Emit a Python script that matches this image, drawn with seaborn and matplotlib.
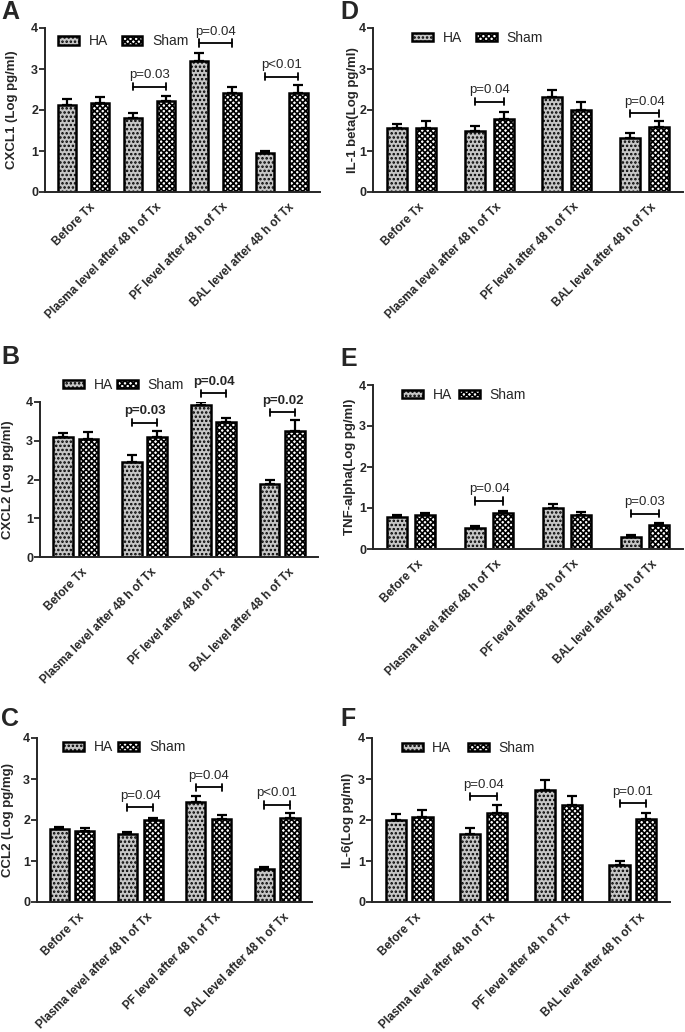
import matplotlib
matplotlib.use('Agg')
import matplotlib.pyplot as plt
import matplotlib.transforms as mtransforms
from matplotlib.patches import Patch
import seaborn as sns
import pandas as pd

categories = ['Before Tx', 'Plasma level after 48 h of Tx',
              'PF level after 48 h of Tx', 'BAL level after 48 h of Tx']
groups = ['HA', 'Sham']

# A - CXCL1
cxcl1_ha = [2.11, 1.80, 3.20, 0.94]
cxcl1_ha_err = [0.15, 0.12, 0.20, 0.05]
cxcl1_sham = [2.16, 2.23, 2.41, 2.42]
cxcl1_sham_err = [0.16, 0.10, 0.14, 0.19]
cxcl1_p = [(1, 2.57, 'p=0.03'), (2, 3.63, 'p=0.04'), (3, 2.81, 'p<0.01')]

# B - CXCL2
cxcl2_ha = [3.10, 2.44, 3.91, 1.88]
cxcl2_ha_err = [0.10, 0.20, 0.10, 0.11]
cxcl2_sham = [3.04, 3.10, 3.48, 3.26]
cxcl2_sham_err = [0.18, 0.15, 0.11, 0.27]
cxcl2_p = [(1, 3.46, 'p=0.03'), (2, 4.23, 'p=0.04'), (3, 3.74, 'p=0.02')]

# C - CCL2
ccl2_ha = [1.78, 1.66, 2.45, 0.81]
ccl2_ha_err = [0.06, 0.05, 0.14, 0.05]
ccl2_sham = [1.74, 2.00, 2.02, 2.05]
ccl2_sham_err = [0.06, 0.06, 0.11, 0.12]
ccl2_p = [(1, 2.31, 'p=0.04'), (2, 2.80, 'p=0.04'), (3, 2.37, 'p<0.01')]

# D - IL-1 beta
il1_ha = [1.56, 1.50, 2.31, 1.31]
il1_ha_err = [0.11, 0.12, 0.18, 0.12]
il1_sham = [1.56, 1.79, 2.00, 1.59]
il1_sham_err = [0.18, 0.16, 0.20, 0.13]
il1_p = [(1, 2.20, 'p=0.04'), (3, 1.92, 'p=0.04')]

# E - TNF-alpha
tnf_ha = [0.77, 0.51, 1.00, 0.30]
tnf_ha_err = [0.05, 0.04, 0.10, 0.03]
tnf_sham = [0.83, 0.88, 0.82, 0.59]
tnf_sham_err = [0.05, 0.05, 0.08, 0.04]
tnf_p = [(1, 1.17, 'p=0.04'), (3, 0.86, 'p=0.03')]

# F - IL-6
il6_ha = [1.99, 1.65, 2.74, 0.90]
il6_ha_err = [0.15, 0.15, 0.23, 0.11]
il6_sham = [2.07, 2.18, 2.36, 2.02]
il6_sham_err = [0.18, 0.19, 0.22, 0.16]
il6_p = [(1, 2.58, 'p=0.04'), (3, 2.41, 'p=0.01')]

W, H = 685, 1032
colors = {'HA': '#c6c6c6', 'Sham': 'white'}
hatches = {'HA': '....', 'Sham': 'xxxxxx'}

sns.set_style('ticks')
plt.rcParams['font.family'] = ['Liberation Sans', 'DejaVu Sans']
plt.rcParams['hatch.linewidth'] = 1.2

fig = plt.figure(figsize=(W / 100, H / 100), dpi=100)


def px_axes(left, right, top, bottom):
    return fig.add_axes([left / W, 1 - bottom / H, (right - left) / W, (bottom - top) / H])


def draw_panel(ax, ha, ha_err, sham, sham_err, pvals, ylabel, letter, letter_xy,
               ylab_x, leg_xy, width=0.75, gap=0.28, pbold=False, colspace=1.0):
    df = pd.DataFrame({
        'category': categories * 2,
        'group': ['HA'] * 4 + ['Sham'] * 4,
        'value': ha + sham,
    })
    sns.barplot(data=df, x='category', y='value', hue='group', order=categories,
                hue_order=groups, palette=colors, saturation=1, errorbar=None,
                width=width, gap=gap, edgecolor='black', linewidth=1.8,
                legend=False, ax=ax)
    centers = {}
    for cont, g, err in zip(ax.containers, groups, [ha_err, sham_err]):
        xs, ys = [], []
        for bar in cont:
            bar.set_hatch(hatches[g])
            xs.append(bar.get_x() + bar.get_width() / 2)
            ys.append(bar.get_height())
        centers[g] = xs
        ax.errorbar(xs, ys, yerr=[[0] * len(err), err], fmt='none', ecolor='black',
                    elinewidth=1.6, capsize=3.5, capthick=1.6, zorder=1)
    for i, y, txt in pvals:
        x1, x2 = centers['HA'][i], centers['Sham'][i]
        ax.plot([x1, x2], [y, y], color='black', lw=1.3, clip_on=False)
        for xx in (x1, x2):
            ax.plot([xx, xx], [y - 0.09, y + 0.09], color='black', lw=1.3, clip_on=False)
        ax.annotate(txt, ((x1 + x2) / 2, y), xytext=(0, 4), textcoords='offset points',
                    ha='center', va='bottom', fontsize=9.5,
                    fontweight='bold' if pbold else 'normal', annotation_clip=False)

    ax.set_ylim(0, 4)
    ax.set_yticks([0, 1, 2, 3, 4])
    ax.set_yticklabels(['0', '1', '2', '3', '4'], fontweight='bold', fontsize=9)
    ax.tick_params(axis='x', length=0, pad=5)
    ax.tick_params(axis='y', length=4, width=1.3, pad=1)
    ax.set_xticks(range(len(categories)))
    ax.set_xticklabels(categories, rotation=45, ha='right', rotation_mode='anchor',
                       fontweight='bold', fontsize=8.5)
    shift = mtransforms.ScaledTranslation(0.06, -0.02, fig.dpi_scale_trans)
    for lab in ax.get_xticklabels():
        lab.set_transform(lab.get_transform() + shift)
    ax.set_xlabel('')
    ax.set_ylabel(ylabel, fontweight='bold', fontsize=9.5)
    ax.yaxis.set_label_coords(ylab_x, 0.5)
    sns.despine(ax=ax)
    for s in ('left', 'bottom'):
        ax.spines[s].set_linewidth(1.4)

    handles = [Patch(facecolor=colors[g], edgecolor='black', hatch=hatches[g],
                     linewidth=1.8, label=g) for g in groups]
    ax.legend(handles=handles, loc='center left', bbox_to_anchor=leg_xy, ncol=2,
              frameon=False, fontsize=10, handlelength=1.5, handleheight=0.6,
              handletextpad=0.7, columnspacing=colspace, borderpad=0, borderaxespad=0)

    fig.text(letter_xy[0] / W, 1 - letter_xy[1] / H, letter, fontsize=18,
             fontweight='bold', ha='left', va='top')


axA = px_axes(45, 320, 28, 192)
draw_panel(axA, cxcl1_ha, cxcl1_ha_err, cxcl1_sham, cxcl1_sham_err, cxcl1_p,
           'CXCL1 (Log pg/ml)', 'A', (1, 0), -0.098, (0.047, 0.92),
           width=1.0, gap=0.44)

axD = px_axes(373, 683, 28, 192)
draw_panel(axD, il1_ha, il1_ha_err, il1_sham, il1_sham_err, il1_p,
           'IL-1 beta(Log pg/ml)', 'D', (340, 0), -0.045, (0.126, 0.94),
           width=0.75, gap=0.31)

axB = px_axes(40, 318, 402, 557)
draw_panel(axB, cxcl2_ha, cxcl2_ha_err, cxcl2_sham, cxcl2_sham_err, cxcl2_p,
           'CXCL2 (Log pg/ml)', 'B', (1, 345), -0.094, (0.083, 1.11),
           width=0.75, gap=0.23, pbold=True, colspace=0.3)

axE = px_axes(373, 683, 385, 549)
draw_panel(axE, tnf_ha, tnf_ha_err, tnf_sham, tnf_sham_err, tnf_p,
           'TNF-alpha(Log pg/ml)', 'E', (340, 347), -0.055, (0.094, 0.94),
           width=0.72, gap=0.28, colspace=0.5)

axC = px_axes(37, 312, 738, 902)
draw_panel(axC, ccl2_ha, ccl2_ha_err, ccl2_sham, ccl2_sham_err, ccl2_p,
           'CCL2 (Log pg/mg)', 'C', (1, 707), -0.084, (0.095, 0.945),
           width=0.75, gap=0.25, colspace=0.4)

axF = px_axes(372, 670, 738, 902)
draw_panel(axF, il6_ha, il6_ha_err, il6_sham, il6_sham_err, il6_p,
           'IL-6(Log pg/ml)', 'F', (340, 707), -0.06, (0.10, 0.94),
           width=0.72, gap=0.25, colspace=1.2)

fig.savefig('out.png', dpi=100)
